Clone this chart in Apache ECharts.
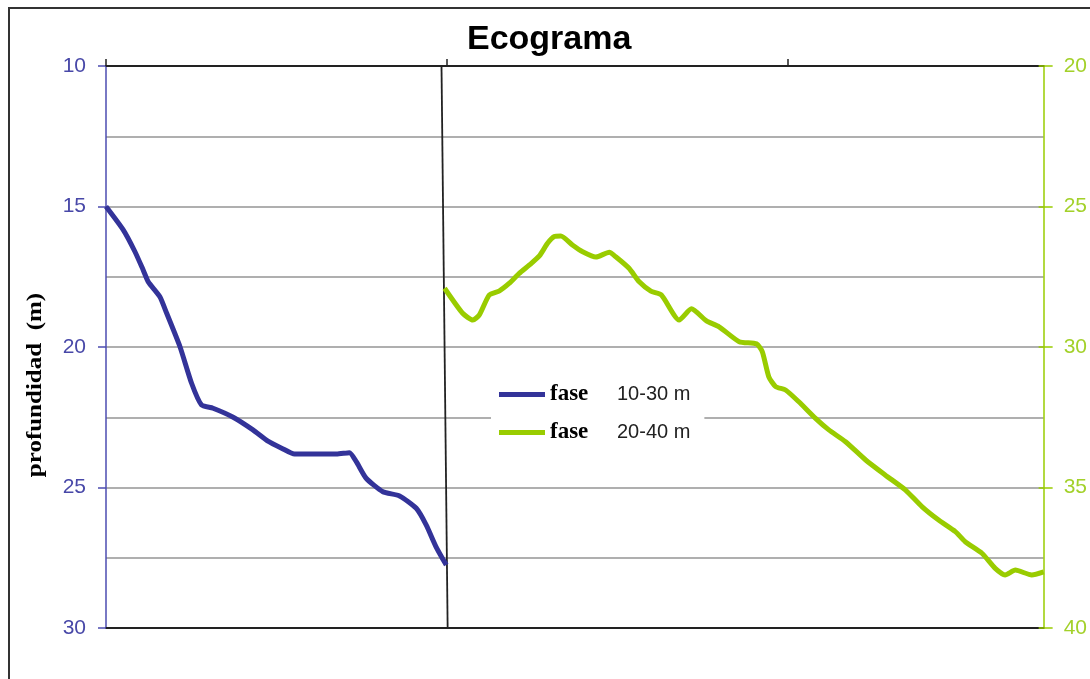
<!DOCTYPE html>
<html>
<head>
<meta charset="utf-8">
<script src="https://cdn.jsdelivr.net/npm/echarts@6/dist/echarts.min.js"></script>
<style>html,body{margin:0;padding:0;background:#fff}#c{width:1090px;height:679px}</style>
</head>
<body>
<div id="c"></div>
<script>
const titleText = 'Ecograma';
const yAxisTitle = 'profundidad  (m)';
const seriesNames = ['fase 10-30 m', 'fase 20-40 m'];
const leftTicks = [10, 30];   // min, max of left depth axis
const rightTicks = [20, 40];  // min, max of right depth axis
const xRange = [0, 275];
const xTickValues = [0, 100, 200];

// phase 10-30 m (left axis)
const blueX = [0, 5.1, 8.5, 10.9, 12.4, 15.8, 17.8, 21.7, 25.1, 28.0, 31.4, 37.3, 43.1, 47.5, 51.5, 55.3, 67.6, 71.4, 73.4, 76.3, 81.2, 86.1, 91.0, 93.9, 96.8, 99.8];
const blueDepth = [15.0, 15.84, 16.61, 17.26, 17.68, 18.21, 18.80, 19.99, 21.29, 22.06, 22.18, 22.50, 22.95, 23.35, 23.6, 23.81, 23.81, 23.76, 24.08, 24.67, 25.15, 25.30, 25.74, 26.33, 27.11, 27.76];

// phase 20-40 m (right axis)
const greenX = [99.3, 104.6, 107.6, 109.5, 112.4, 115.4, 118.3, 121.2, 124.2, 127.1, 129.5, 131.5, 133.4, 136.8, 139.8, 143.7, 147.6, 149.5, 153.4, 156.4, 159.8, 162.9, 168.1, 171.7, 176.1, 179.8, 185.7, 190.8, 192.5, 194.4, 196.4, 199.3, 203.2, 208.1, 212.0, 216.9, 222.8, 228.6, 234.5, 239.3, 244.2, 249.1, 252.0, 256.9, 260.8, 263.7, 266.7, 271.5, 275.0];
const greenDepth = [27.91, 28.80, 29.04, 28.86, 28.15, 28.00, 27.73, 27.38, 27.08, 26.76, 26.31, 26.07, 26.05, 26.37, 26.61, 26.80, 26.63, 26.79, 27.20, 27.68, 28.01, 28.15, 29.04, 28.64, 29.07, 29.28, 29.81, 29.89, 30.17, 31.06, 31.41, 31.53, 31.95, 32.54, 32.95, 33.37, 34.02, 34.56, 35.09, 35.68, 36.16, 36.57, 36.93, 37.34, 37.88, 38.11, 37.94, 38.11, 38.00];

// separator between phases
const sepX = [98.4, 100.2];
const sepDepth = [10, 30];

const zip = (a, b) => a.map((v, i) => [v, b[i]]);

const chart = echarts.init(document.getElementById('c'), null, {renderer: 'canvas'});
const blue = '#333399', green = '#99CC00';
const labelFont = 'Liberation Sans, Arial, sans-serif';
chart.setOption({
  animation: false,
  backgroundColor: '#fff',
  title: {
    text: titleText, left: 467, top: 23, padding: 0,
    textStyle: {fontFamily: labelFont, fontWeight: 'bold', fontSize: 34, color: '#000'}
  },
  graphic: [
    {type: 'rect', shape: {x: 9, y: 8, width: 1200, height: 800}, style: {fill: 'none', stroke: '#333', lineWidth: 2}, silent: true},
    {type: 'text', x: 36, y: 385, rotation: Math.PI / 2, scaleX: 1.25,
     style: {text: yAxisTitle, fontFamily: 'Liberation Serif, serif', fontWeight: 'bold', fontSize: 20, fill: '#000', align: 'center', verticalAlign: 'middle'}}
  ],
  grid: {left: 106, right: 44, top: 66, bottom: 51},
  legend: {
    orient: 'vertical', left: 491, top: 377, padding: [6, 14, 6, 8],
    backgroundColor: '#fff', icon: 'rect', itemWidth: 46, itemHeight: 5, itemGap: 15,
    data: seriesNames,
    formatter: function (name) {
      const i = name.indexOf(' ');
      return '{a|' + name.slice(0, i) + '}{b|' + name.slice(i + 1) + '}';
    },
    textStyle: {
      rich: {
        a: {fontFamily: 'Liberation Serif, serif', fontWeight: 'bold', fontSize: 23, color: '#000', width: 67, lineHeight: 20},
        b: {fontFamily: labelFont, fontSize: 20, color: '#222', lineHeight: 20}
      }
    }
  },
  xAxis: [
    {type: 'value', position: 'top', min: xRange[0], max: xRange[1], interval: 100,
     axisLine: {show: true, onZero: false, lineStyle: {color: '#222', width: 2}},
     axisTick: {show: true, length: 7, customValues: xTickValues, lineStyle: {color: '#222', width: 1.5}},
     axisLabel: {show: false}, splitLine: {show: false}},
    {type: 'value', position: 'bottom', min: xRange[0], max: xRange[1], interval: 100,
     axisLine: {show: true, onZero: false, lineStyle: {color: '#222', width: 2}},
     axisTick: {show: false}, axisLabel: {show: false}, splitLine: {show: false}}
  ],
  yAxis: [
    {type: 'value', inverse: true, min: leftTicks[0], max: leftTicks[1], interval: 5, position: 'left',
     axisLine: {show: true, onZero: false, lineStyle: {color: '#4C4CB0', width: 1.5}},
     axisTick: {show: true, length: 8, lineStyle: {color: '#4C4CB0', width: 1.5}},
     axisLabel: {margin: 20, fontSize: 21, fontFamily: labelFont, color: '#4848A8'},
     splitLine: {show: true, lineStyle: {color: '#959595', width: 1.5}},
     minorTick: {show: false, splitNumber: 2},
     minorSplitLine: {show: true, lineStyle: {color: '#959595', width: 1.5}}},
    {type: 'value', inverse: true, min: rightTicks[0], max: rightTicks[1], interval: 5, position: 'right',
     axisLine: {show: true, onZero: false, lineStyle: {color: green, width: 1.5}},
     axisTick: {show: true, length: 9, lineStyle: {color: green, width: 1.5}},
     axisLabel: {margin: 20, fontSize: 21, fontFamily: labelFont, color: '#A3D12A'},
     splitLine: {show: false}},
    {type: 'value', inverse: true, min: rightTicks[0], max: rightTicks[1], interval: 5, position: 'right',
     axisLine: {show: false, onZero: false},
     axisTick: {show: true, inside: true, length: 5, lineStyle: {color: green, width: 1.5}},
     axisLabel: {show: false}, splitLine: {show: false}}
  ],
  series: [
    {name: 'separator', type: 'line', xAxisIndex: 0, yAxisIndex: 0, data: zip(sepX, sepDepth),
     symbol: 'none', silent: true, lineStyle: {color: '#222', width: 1.8}, z: 1},
    {name: seriesNames[0], type: 'line', xAxisIndex: 0, yAxisIndex: 0, data: zip(blueX, blueDepth),
     symbol: 'none', smooth: 0.2, color: blue, lineStyle: {color: blue, width: 5}, z: 3},
    {name: seriesNames[1], type: 'line', xAxisIndex: 0, yAxisIndex: 1, data: zip(greenX, greenDepth),
     symbol: 'none', smooth: 0.2, color: green, lineStyle: {color: green, width: 5}, z: 3}
  ]
});
</script>
</body>
</html>
